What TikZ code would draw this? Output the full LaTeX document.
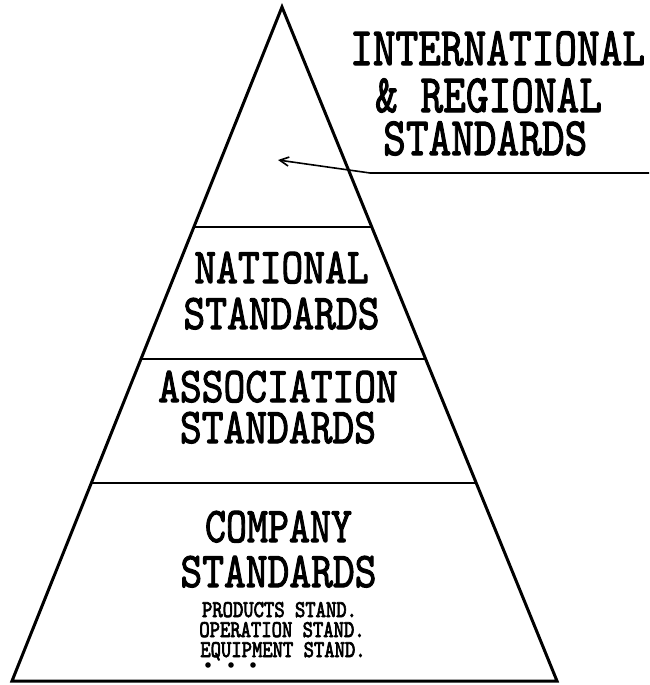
\documentclass[tikz,border=0pt]{standalone}
\usepackage{graphicx}
\usepackage{fontspec}
\usetikzlibrary{arrows.meta,calc}

% heavy typewriter face, condensed horizontally with \scalebox
\newfontfamily\typeface{lmmono10-regular.otf}[FakeBold=2.2]
\newfontfamily\smallface{lmmono10-regular.otf}[FakeBold=3.2]
\newcommand{\cond}[2][0.83]{\scalebox{#1}[1]{#2}}

\tikzset{
  block/.style={inner sep=0pt, anchor=base, align=center},
  bigfont/.style={font=\fontsize{50}{#1}\selectfont\typeface},
  callfont/.style={font=\fontsize{54}{45}\selectfont\typeface},
  subfont/.style={font=\fontsize{24}{20}\selectfont\smallface},
  outline/.style={line width=3pt, line join=miter},
  divider/.style={line width=1.8pt},
  leader/.style={line width=1.6pt, -{Straight Barb[length=9pt,width=9pt]}},
}

\begin{document}
\begin{tikzpicture}[x=1pt, y=-1pt]
  \useasboundingbox (0,0) rectangle (649,685);

  % pyramid corners
  \coordinate (apex) at (282,7);
  \coordinate (bl) at (12,681);
  \coordinate (br) at (557,681);

  \draw[outline] (apex) -- (br) -- (bl) -- cycle;

  % level dividers (end points on the two sides)
  \foreach \yy in {227, 359, 483} {
    \pgfmathsetmacro{\lvlfrac}{(\yy-7)/674}
    \draw[divider] ($(apex)!\lvlfrac!(bl)$) -- ($(apex)!\lvlfrac!(br)$);
  }

  % international / regional callout (anchored on its last line)
  \node[block, callfont, align=left, anchor=base west] (intl) at (350,155)
    {\cond[0.80]{INTERNATIONAL}\\[2pt]
     \hspace*{25pt}\cond[0.80]{\& REGIONAL}\\[-2pt]
     \hspace*{33pt}\cond[0.80]{STANDARDS}};

  \coordinate (leadend) at (649,173);
  \coordinate (leadbend) at (370,173);
  \coordinate (tip) at (278,160);
  \draw[leader] (leadend) -- (leadbend) -- (tip);

  % national
  \node[block, bigfont=46] (nat) at (281.5,329)
    {\cond{NATIONAL}\\\cond{STANDARDS}};

  % association
  \node[block, bigfont=41] (asc) at (278,443)
    {\cond{ASSOCIATION}\\\cond{STANDARDS}};

  % company
  \node[block, bigfont=45] (cmp) at (278.5,587)
    {\cond[0.80]{COMPANY}\\\cond{STANDARDS}};
  \node[block, subfont] (sub) at (281.5,657)
    {\cond[0.82]{PRODUCTS STAND.}\hspace*{4pt}\\
     \hspace*{1pt}\cond[0.82]{OPERATION STAND.}\\
     \hspace*{3pt}\cond[0.82]{EQUIPMENT STAND.}};
  \foreach \xx in {208,231,253}
    \fill (\xx,665) circle (2.8pt);
\end{tikzpicture}
\end{document}
